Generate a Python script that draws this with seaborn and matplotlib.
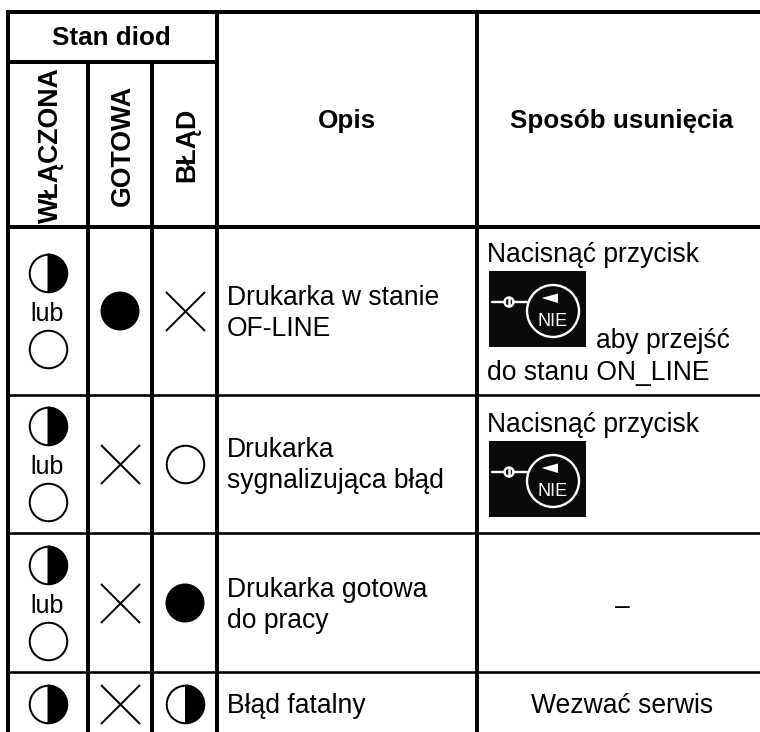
import matplotlib
matplotlib.use("Agg")
import matplotlib.pyplot as plt
import pandas as pd
import seaborn as sns
from matplotlib.patches import Circle, Polygon, Rectangle
from matplotlib.path import Path

# table contents
header_group = "Stan diod"
led_names = ["WŁĄCZONA", "GOTOWA", "BŁĄD"]
col_titles = ["Opis", "Sposób usunięcia"]
# state of each led per row, "a|b" means "a lub b"
led_power = ["half|off", "half|off", "half|off", "half"]
led_ready = ["full", "x", "x", "x"]
led_error = ["x", "off", "full", "half"]
descriptions = [
    ["Drukarka w stanie", "OF-LINE"],
    ["Drukarka", "sygnalizująca błąd"],
    ["Drukarka gotowa", "do pracy"],
    ["Błąd fatalny"],
]
button_name = "NIE"

# layout, in pixels of the 760x732 picture
DPI = 100
col_x = [8, 88, 152, 217, 477]
col_centers = [47.5, 120, 185]
row_mid = [311, 464, 603, 704]
row_top = [273, 426, 565]
row_bottom = [349, 502, 641]
lub_base = [321, 474, 613]
desc_base = [[305, 336], [457, 488], [597, 628], [713]]


def px(n):
    return n * 72 / DPI


sns.set_theme(style="white")
plt.rcParams["font.family"] = ["Liberation Sans", "DejaVu Sans"]

fig = plt.figure(figsize=(760 / DPI, 732 / DPI), dpi=DPI, facecolor="white")
ax = fig.add_axes([0, 0, 1, 1])
ax.set_xlim(0, 760)
ax.set_ylim(732, 0)
ax.axis("off")

# grid
thick = px(4)
thin = px(2.6)
ax.hlines(12, 6, 760, color="black", lw=thick)
ax.hlines(62, 8, 217, color="black", lw=thick)
ax.hlines(226.5, 8, 760, color="black", lw=thick)
for y in [395, 533, 672]:
    ax.hlines(y, 8, 760, color="black", lw=thin)
ax.vlines(col_x[0], 10, 732, color="black", lw=thick)
ax.vlines(col_x[1], 62, 732, color="black", lw=thick)
ax.vlines(col_x[2], 62, 732, color="black", lw=thick)
ax.vlines(col_x[3], 10, 732, color="black", lw=thick)
ax.vlines(col_x[4], 10, 732, color="black", lw=thick)

# headers
FS = px(26.5)
ax.text(111.5, 45, header_group, fontsize=px(26), fontweight="bold", ha="center", va="baseline", color="black")
for name, x in zip(led_names, [58, 130, 194]):
    ax.text(x, 145, name, fontsize=px(26.8), fontweight="bold", rotation=90,
            ha="center", va="baseline", rotation_mode="anchor", color="black")
ax.text(347, 128, col_titles[0], fontsize=px(26), fontweight="bold", ha="center", va="baseline", color="black")
ax.text(622, 128, col_titles[1], fontsize=px(26), fontweight="bold", ha="center", va="baseline", color="black")

# led marks
records = []
for col, states in enumerate([led_power, led_ready, led_error]):
    for row, state in enumerate(states):
        if "|" in state:
            first, second = state.split("|")
            records.append((col_centers[col], row_top[row], first))
            records.append((col_centers[col], row_bottom[row], second))
            ax.text(col_centers[col], lub_base[row], "lub", fontsize=px(25), ha="center", va="baseline", color="black")
        else:
            records.append((col_centers[col], row_mid[row], state))
marks = pd.DataFrame(records, columns=["x", "y", "state"])

SIZE = px(39) ** 2
right_half = Path.unit_circle_righthalf()
ring = marks[marks["state"].isin(["off", "half"])]
sns.scatterplot(data=ring, x="x", y="y", ax=ax, marker="o", s=px(37.5) ** 2, color="white",
                edgecolor="black", linewidth=px(2), legend=False, zorder=3)
sns.scatterplot(data=marks[marks["state"] == "half"], x="x", y="y", ax=ax, marker=right_half, s=SIZE,
                color="black", edgecolor="none", linewidth=0, legend=False, zorder=4)
sns.scatterplot(data=marks[marks["state"] == "full"], x="x", y="y", ax=ax, marker="o", s=SIZE,
                color="black", edgecolor="none", linewidth=0, legend=False, zorder=3)
sns.scatterplot(data=marks[marks["state"] == "x"], x="x", y="y", ax=ax, marker="x", s=SIZE,
                color="black", linewidth=px(2), legend=False, zorder=3)
ax.set_xlim(0, 760)
ax.set_ylim(732, 0)
ax.axis("off")

# descriptions
for lines, bases in zip(descriptions, desc_base):
    for line, base in zip(lines, bases):
        ax.text(227, base, line, fontsize=FS, ha="left", va="baseline", color="black")


def draw_button(top):
    # black key picture with the NIE symbol, top is the upper edge in pixels
    lw = px(2.4)
    ax.add_patch(Rectangle((489, top), 97, 76, facecolor="#0a0a0a", edgecolor="none", zorder=3))
    cy = top + 40
    ax.add_patch(Circle((553, cy), 26, facecolor="none", edgecolor="white", lw=lw, zorder=4))
    ly = top + 31
    ax.plot([492, 505], [ly, ly], color="white", lw=lw, zorder=4)
    ax.plot([513, 527], [ly, ly], color="white", lw=lw, zorder=4)
    ax.add_patch(Circle((509, ly), 4.5, facecolor="none", edgecolor="white", lw=lw, zorder=4))
    ax.plot([509, 509], [ly - 4, ly + 4], color="white", lw=px(2.5), zorder=4)
    ax.add_patch(Polygon([(541.5, top + 27), (558, top + 22.5), (558, top + 32)], facecolor="white", edgecolor="none", zorder=4))
    ax.text(553, top + 54.5, button_name, fontsize=px(18), color="white", ha="center", va="baseline", zorder=4)


# remedies
ax.text(487, 262, "Nacisnąć przycisk", fontsize=FS, ha="left", va="baseline", color="black")
draw_button(271)
ax.text(596, 348, "aby przejść", fontsize=FS, ha="left", va="baseline", color="black")
ax.text(487, 380, "do stanu ON_LINE", fontsize=FS, ha="left", va="baseline", color="black")
ax.text(487, 432, "Nacisnąć przycisk", fontsize=FS, ha="left", va="baseline", color="black")
draw_button(441)
ax.text(622, 614.5, "–", fontsize=FS, ha="center", va="baseline", color="black")
ax.text(622, 713, "Wezwać serwis", fontsize=FS, ha="center", va="baseline", color="black")

fig.savefig("out.png", dpi=DPI, facecolor="white")
